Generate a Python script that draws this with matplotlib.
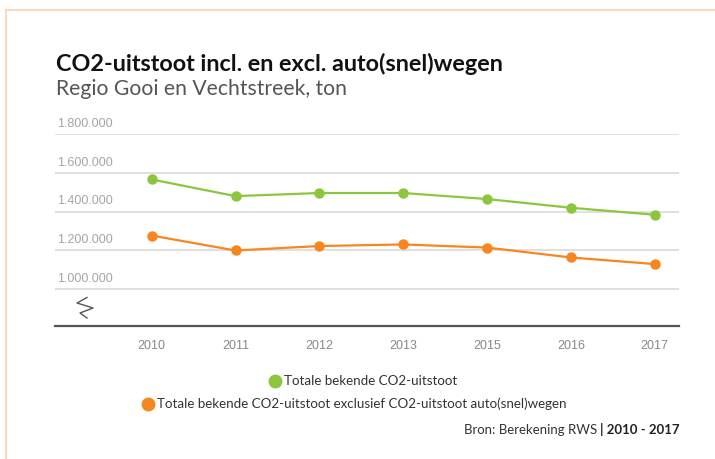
import numpy as np
import matplotlib
matplotlib.use("Agg")
import matplotlib.pyplot as plt
from matplotlib.lines import Line2D

years = ["2010", "2011", "2012", "2013", "2015", "2016", "2017"]
totaal = [1566000, 1480000, 1496000, 1496000, 1465000, 1420000, 1384000]
exclusief = [1277000, 1200000, 1223000, 1231000, 1215000, 1164000, 1130000]
y_ticks = [1000000, 1200000, 1400000, 1600000, 1800000]
series_names = ["Totale bekende CO2-uitstoot",
                "Totale bekende CO2-uitstoot exclusief CO2-uitstoot auto(snel)wegen"]

GREEN = "#8cc63f"
ORANGE = "#f7861f"

W, H = 715, 459
fig = plt.figure(figsize=(W / 100, H / 100), dpi=100)
fig.patch.set_facecolor("white")


def px(x, y):
    """pixel position (from top-left) -> figure fraction"""
    return x / W, 1 - y / H


# thin frame on the top and left edge
fig.add_artist(Line2D([6 / W, 6 / W], [0, 1 - 9.5 / H], color="#f6d3b4", lw=1.2))
fig.add_artist(Line2D([6 / W, 1], [1 - 9.5 / H, 1 - 9.5 / H], color="#f6d3b4", lw=1.2))

# titles
fig.text(*px(56, 64), "CO2-uitstoot incl. en excl. auto(snel)wegen",
         fontsize=16.8, fontweight="bold", family="Lato", color="#111111", va="center")
fig.text(*px(56, 89), "Regio Gooi en Vechtstreek, ton",
         fontsize=15.2, family="Lato", color="#555555", va="center")

# plot area
left, right = 55 / W, 679 / W
bottom, top = 1 - 326 / H, 1 - 134 / H
ax = fig.add_axes([left, bottom, right - left, top - bottom])
x = np.arange(len(years))
ax.set_xlim(-1.153, 6.29)
ax.set_ylim(811000, 1800000)

for v in y_ticks:
    ax.axhline(v, color="#dddddd", lw=1.3, zorder=1)
    ax.annotate(f"{v:,}".replace(",", "."), xy=(0, v), xycoords=("axes fraction", "data"),
                xytext=(1.5, 3), textcoords="offset points", ha="left", va="bottom",
                fontsize=9, family="Liberation Sans", color="#a5a5a5")

ax.plot(x, totaal, color=GREEN, lw=1.6, marker="o", markersize=6.5, zorder=3)
ax.plot(x, exclusief, color=ORANGE, lw=1.6, marker="o", markersize=6.5, zorder=3)

ax.set_xticks(x)
ax.set_xticklabels(years, fontsize=9, family="Liberation Sans", color="#888888")
ax.tick_params(axis="x", length=0, pad=10)
ax.set_yticks([])
for s in ["top", "right", "left"]:
    ax.spines[s].set_visible(False)
ax.spines["bottom"].set_color("#555555")
ax.spines["bottom"].set_linewidth(1.6)

# axis break sign
zz = np.array([(87, 297.5), (77, 303), (93, 308), (80, 313), (87, 318)])
fig.add_artist(Line2D(zz[:, 0] / W, 1 - zz[:, 1] / H, color="#555555", lw=1.0))

# legend
for (mx, my), name, col in [((275, 381), series_names[0], GREEN),
                            ((148, 404), series_names[1], ORANGE)]:
    fig.add_artist(Line2D([mx / W], [1 - my / H], marker="o", markersize=9,
                          color=col, lw=0))
    fig.text(*px(mx + 9, my), name, fontsize=9.6, family="Lato", color="#333333", va="center")

# source line
fig.canvas.draw()
r = fig.canvas.get_renderer()
bold = fig.text(*px(680, 430), "| 2010 - 2017", fontsize=9.5, family="Lato",
                fontweight="bold", color="#222222", ha="right", va="center")
bb = bold.get_window_extent(r)
fig.text(bb.x0 / fig.bbox.width - 3 / W, 1 - 430 / H, "Bron: Berekening RWS",
         fontsize=9.5, family="Lato", color="#333333", ha="right", va="center")

fig.savefig("out.png", dpi=100)
